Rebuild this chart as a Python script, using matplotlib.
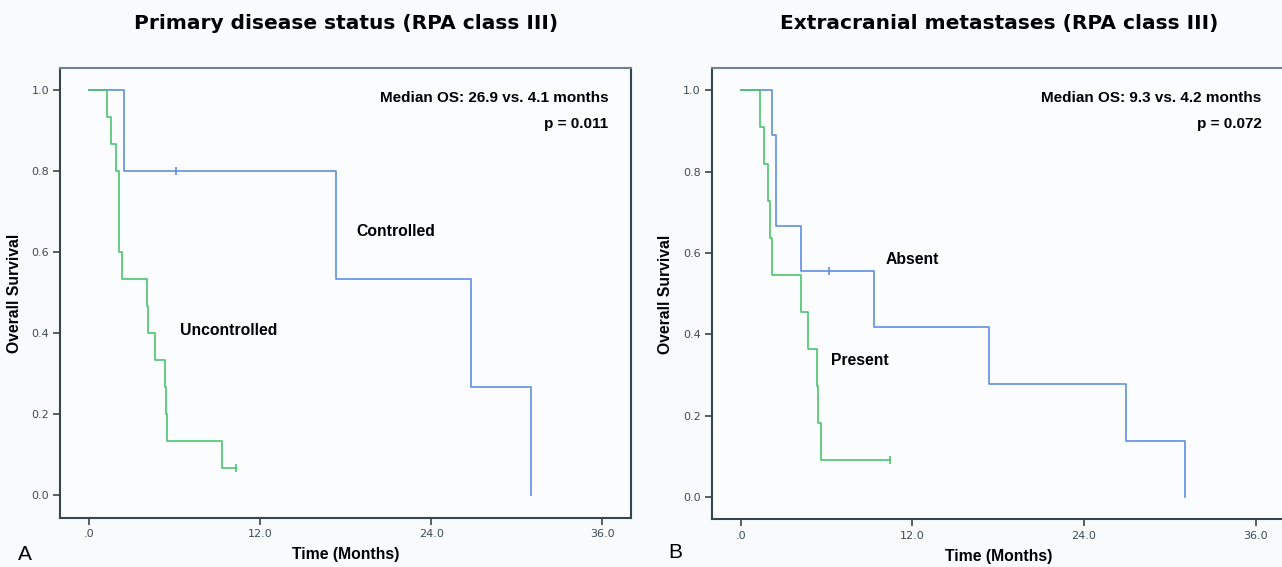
"""Kaplan-Meier overall survival, RPA class III: primary disease status and extracranial metastases."""

import matplotlib
matplotlib.use("Agg")
import matplotlib.pyplot as plt

# step curves: time of each drop (months) and survival after it
CTRL_T = [0, 2.45, 17.3, 26.8, 31.0]
CTRL_S = [1.0, 0.800, 0.533, 0.267, 0.0]
CTRL_CENS_T = [6.1]
CTRL_CENS_S = [0.800]

UNCTRL_T = [0, 1.29, 1.55, 1.93, 2.12, 2.36, 4.08, 4.16, 4.67, 5.31, 5.40, 5.51, 5.60, 9.33, 10.34]
UNCTRL_S = [1.0, 0.933, 0.867, 0.800, 0.600, 0.533, 0.467, 0.400, 0.333, 0.267, 0.200, 0.133, 0.133, 0.067, 0.067]
UNCTRL_CENS_T = [10.34]
UNCTRL_CENS_S = [0.067]

ABSENT_T = [0, 2.17, 2.45, 4.19, 9.33, 17.33, 26.97, 31.03]
ABSENT_S = [1.0, 0.889, 0.667, 0.556, 0.417, 0.278, 0.139, 0.0]
ABSENT_CENS_T = [6.17]
ABSENT_CENS_S = [0.556]

PRESENT_T = [0, 1.32, 1.60, 1.91, 2.05, 2.17, 4.22, 4.70, 5.32, 5.40, 5.63, 10.42]
PRESENT_S = [1.0, 0.909, 0.818, 0.727, 0.636, 0.545, 0.455, 0.364, 0.273, 0.182, 0.091, 0.091]
PRESENT_CENS_T = [10.42]
PRESENT_CENS_S = [0.091]

TITLES = ["Primary disease status (RPA class III)", "Extracranial metastases (RPA class III)"]
MEDIAN_TXT = ["Median OS: 26.9 vs. 4.1 months", "Median OS: 9.3 vs. 4.2 months"]
P_TXT = ["p = 0.011", "p = 0.072"]
GROUPS = [("Controlled", "Uncontrolled"), ("Absent", "Present")]
PANEL_TAGS = ["A", "B"]

XTICKS = [0, 12, 24, 36]
XTICK_LABELS = [".0", "12.0", "24.0", "36.0"]
YTICKS = [0.0, 0.2, 0.4, 0.6, 0.8, 1.0]

BLUE = "#5f8fdf"
GREEN = "#4cc46e"
SPINE = "#34474d"
BG = "#f9fafc"

fig = plt.figure(figsize=(12.82, 5.67), dpi=100, facecolor=BG)
axA = fig.add_axes([0.0470, 0.0873, 0.4452, 0.7922])
# right panel runs off the image edge in the source figure
axB = fig.add_axes([0.5554, 0.0838, 0.4475, 0.7957])
xlims = [(-2, 38), (-2, 38.1)]

curves = [
    [(CTRL_T, CTRL_S, CTRL_CENS_T, CTRL_CENS_S, BLUE),
     (UNCTRL_T, UNCTRL_S, UNCTRL_CENS_T, UNCTRL_CENS_S, GREEN)],
    [(ABSENT_T, ABSENT_S, ABSENT_CENS_T, ABSENT_CENS_S, BLUE),
     (PRESENT_T, PRESENT_S, PRESENT_CENS_T, PRESENT_CENS_S, GREEN)],
]
# label positions (data coords)
group_xy = [((21.5, 0.651), (9.8, 0.406)), ((12.0, 0.585), (8.3, 0.337))]

for i, ax in enumerate([axA, axB]):
    ax.set_facecolor("#fbfcfd")
    for t, s, ct, cs, col in curves[i]:
        ax.step(t, s, where="post", color=col, lw=1.2)
        ax.plot(ct, cs, ls="none", marker="|", ms=6, mew=1.2, color=col)

    ax.set_xlim(*xlims[i])
    ax.set_ylim(-0.055, 1.054)
    ax.set_xticks(XTICKS)
    ax.set_xticklabels(XTICK_LABELS)
    ax.set_yticks(YTICKS)
    ax.set_yticklabels([f"{v:.1f}" for v in YTICKS])
    ax.tick_params(direction="out", length=5, width=1.2, color=SPINE,
                   labelsize=8, labelcolor="#3c4a55", pad=3)
    for sp in ax.spines.values():
        sp.set_color(SPINE)
        sp.set_linewidth(1.5)
    ax.spines["top"].set_color("#6f858c")

    ax.set_xlabel("Time (Months)", fontsize=11.3, fontweight="bold",
                  family="Liberation Sans", labelpad=6)
    ax.set_ylabel("Overall Survival", fontsize=11.3, fontweight="bold",
                  family="Liberation Sans", labelpad=7)
    ax.set_title(TITLES[i], fontsize=14.5, fontweight="bold",
                 family="DejaVu Sans", pad=28)

    ax.text(36.4, 0.981, MEDIAN_TXT[i], ha="right", va="center",
            fontsize=11, fontweight="bold", family="Liberation Sans")
    ax.text(36.4, 0.916, P_TXT[i], ha="right", va="center",
            fontsize=11, fontweight="bold", family="Liberation Sans")
    for name, (gx, gy) in zip(GROUPS[i], group_xy[i]):
        ax.text(gx, gy, name, ha="center", va="center",
                fontsize=11.3, fontweight="bold", family="Liberation Sans")

fig.text(25 / 1282, 1 - 554 / 567, PANEL_TAGS[0], ha="center", va="center",
         fontsize=15, family="Liberation Sans")
fig.text(675 / 1282, 1 - 553 / 567, PANEL_TAGS[1], ha="center", va="center",
         fontsize=15, family="Liberation Sans")

fig.savefig("out.png", dpi=100, facecolor=BG)
